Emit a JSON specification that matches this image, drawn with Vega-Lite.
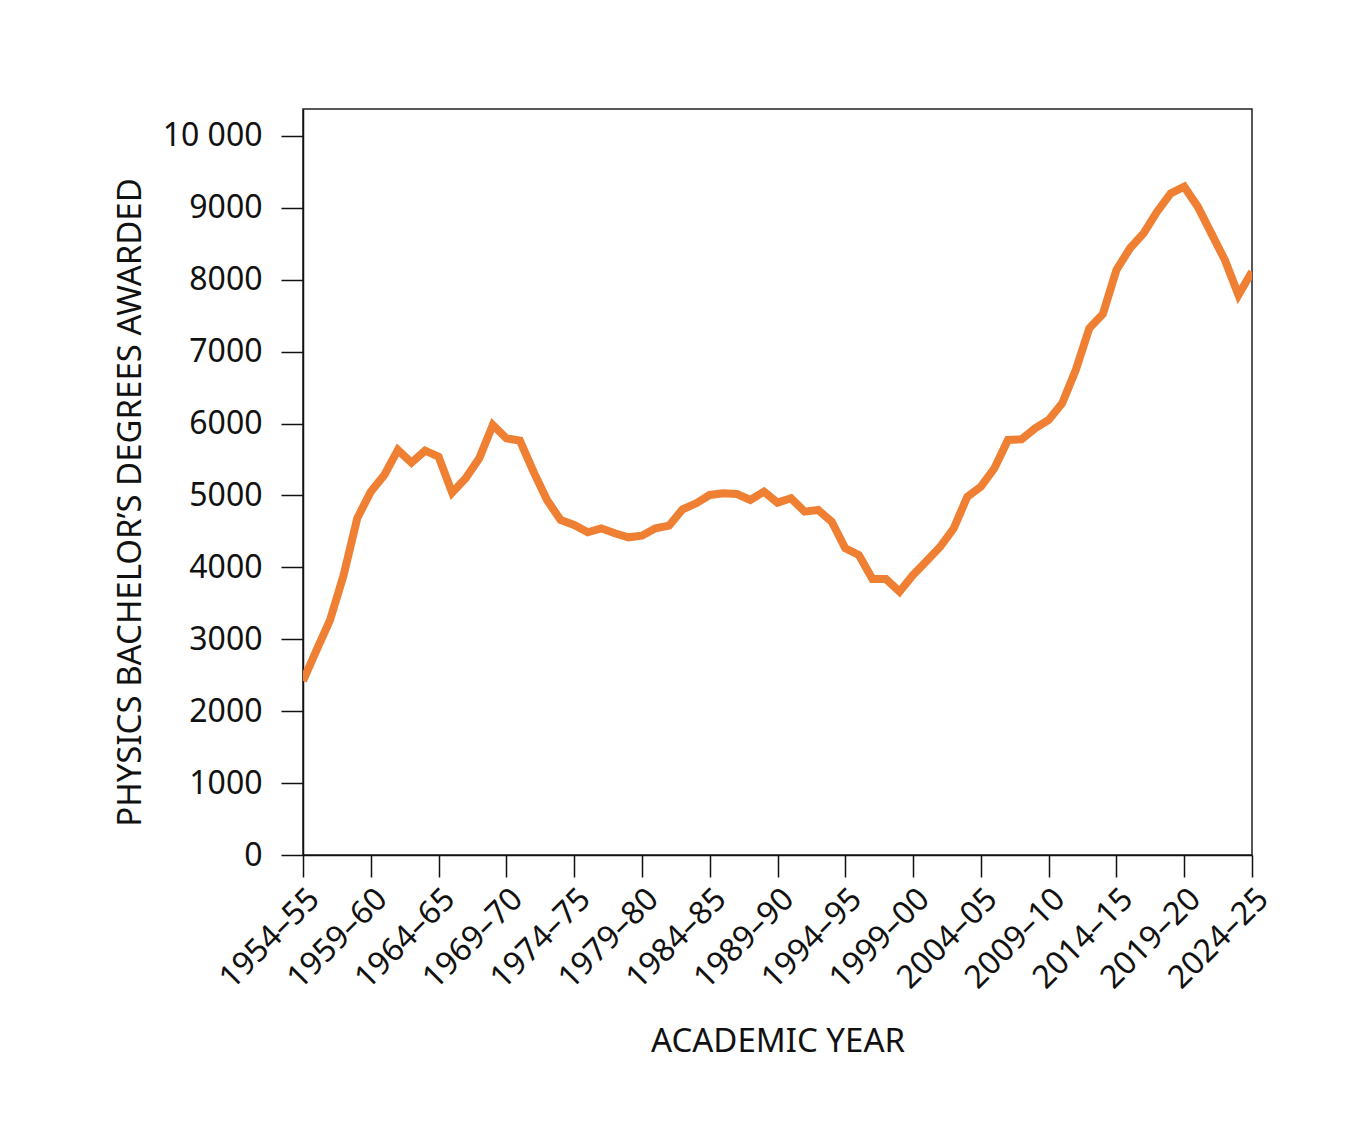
{
  "$schema": "https://vega.github.io/schema/vega-lite/v6.json",
  "autosize": "none",
  "width": 949,
  "height": 746,
  "padding": {"left": 303, "top": 109, "right": 96, "bottom": 272},
  "background": "white",
  "config": {
    "font": "Noto Sans",
    "view": {"stroke": "#222222", "strokeWidth": 1.5},
    "axis": {
      "domainColor": "#111111",
      "domainWidth": 1.5,
      "tickColor": "#111111",
      "tickWidth": 1.5,
      "tickSize": 22,
      "labelColor": "#111111",
      "titleColor": "#111111",
      "labelFont": "Noto Sans",
      "titleFont": "Noto Sans",
      "labelFontSize": 32,
      "titleFontSize": 33,
      "titleFontWeight": "normal",
      "grid": false
    }
  },
  "data": {
    "values": [
      {"year": 1954, "degrees": 2420},
      {"year": 1955, "degrees": 2850},
      {"year": 1956, "degrees": 3270},
      {"year": 1957, "degrees": 3894},
      {"year": 1958, "degrees": 4683},
      {"year": 1959, "degrees": 5053},
      {"year": 1960, "degrees": 5285},
      {"year": 1961, "degrees": 5633},
      {"year": 1962, "degrees": 5456},
      {"year": 1963, "degrees": 5623},
      {"year": 1964, "degrees": 5540},
      {"year": 1965, "degrees": 5039},
      {"year": 1966, "degrees": 5239},
      {"year": 1967, "degrees": 5517},
      {"year": 1968, "degrees": 5981},
      {"year": 1969, "degrees": 5795},
      {"year": 1970, "degrees": 5763},
      {"year": 1971, "degrees": 5331},
      {"year": 1972, "degrees": 4937},
      {"year": 1973, "degrees": 4659},
      {"year": 1974, "degrees": 4590},
      {"year": 1975, "degrees": 4488},
      {"year": 1976, "degrees": 4543},
      {"year": 1977, "degrees": 4474},
      {"year": 1978, "degrees": 4418},
      {"year": 1979, "degrees": 4441},
      {"year": 1980, "degrees": 4543},
      {"year": 1981, "degrees": 4580},
      {"year": 1982, "degrees": 4808},
      {"year": 1983, "degrees": 4891},
      {"year": 1984, "degrees": 5007},
      {"year": 1985, "degrees": 5031},
      {"year": 1986, "degrees": 5021},
      {"year": 1987, "degrees": 4937},
      {"year": 1988, "degrees": 5053},
      {"year": 1989, "degrees": 4900},
      {"year": 1990, "degrees": 4961},
      {"year": 1991, "degrees": 4775},
      {"year": 1992, "degrees": 4798},
      {"year": 1993, "degrees": 4636},
      {"year": 1994, "degrees": 4266},
      {"year": 1995, "degrees": 4172},
      {"year": 1996, "degrees": 3839},
      {"year": 1997, "degrees": 3839},
      {"year": 1998, "degrees": 3662},
      {"year": 1999, "degrees": 3894},
      {"year": 2000, "degrees": 4090},
      {"year": 2001, "degrees": 4287},
      {"year": 2002, "degrees": 4543},
      {"year": 2003, "degrees": 4983},
      {"year": 2004, "degrees": 5122},
      {"year": 2005, "degrees": 5378},
      {"year": 2006, "degrees": 5772},
      {"year": 2007, "degrees": 5781},
      {"year": 2008, "degrees": 5934},
      {"year": 2009, "degrees": 6050},
      {"year": 2010, "degrees": 6282},
      {"year": 2011, "degrees": 6745},
      {"year": 2012, "degrees": 7325},
      {"year": 2013, "degrees": 7524},
      {"year": 2014, "degrees": 8136},
      {"year": 2015, "degrees": 8438},
      {"year": 2016, "degrees": 8646},
      {"year": 2017, "degrees": 8947},
      {"year": 2018, "degrees": 9202},
      {"year": 2019, "degrees": 9295},
      {"year": 2020, "degrees": 9017},
      {"year": 2021, "degrees": 8646},
      {"year": 2022, "degrees": 8275},
      {"year": 2023, "degrees": 7789},
      {"year": 2024, "degrees": 8113}
    ]
  },
  "mark": {
    "type": "line",
    "color": "#EF8033",
    "strokeWidth": 8,
    "strokeJoin": "miter",
    "strokeCap": "butt",
    "clip": true
  },
  "encoding": {
    "x": {
      "field": "year",
      "type": "quantitative",
      "scale": {"domain": [1954, 2024], "nice": false, "zero": false},
      "axis": {
        "title": "ACADEMIC YEAR",
        "values": [1954, 1959, 1964, 1969, 1974, 1979, 1984, 1989, 1994, 1999, 2004, 2009, 2014, 2019, 2024],
        "labelExpr": "datum.value + '–' + format((datum.value + 1) % 100, '02d')",
        "labelAngle": -45,
        "labelAlign": "right",
        "labelBaseline": "top",
        "labelPadding": 6,
        "labelOverlap": false,
        "labelFlush": false,
        "titleY": 196,
        "titleBaseline": "alphabetic"
      }
    },
    "y": {
      "field": "degrees",
      "type": "quantitative",
      "scale": {"domain": [0, 10375], "nice": false},
      "axis": {
        "title": "PHYSICS BACHELOR’S DEGREES AWARDED",
        "values": [0, 1000, 2000, 3000, 4000, 5000, 6000, 7000, 8000, 9000, 10000],
        "labelExpr": "datum.value >= 10000 ? '10 000' : format(datum.value, 'd')",
        "labelPadding": 19,
        "labelFlush": false,
        "labelOverlap": false,
        "titleX": -156,
        "titleY": 393,
        "titleAngle": -90,
        "titleBaseline": "bottom",
        "titleAlign": "center"
      }
    }
  }
}
